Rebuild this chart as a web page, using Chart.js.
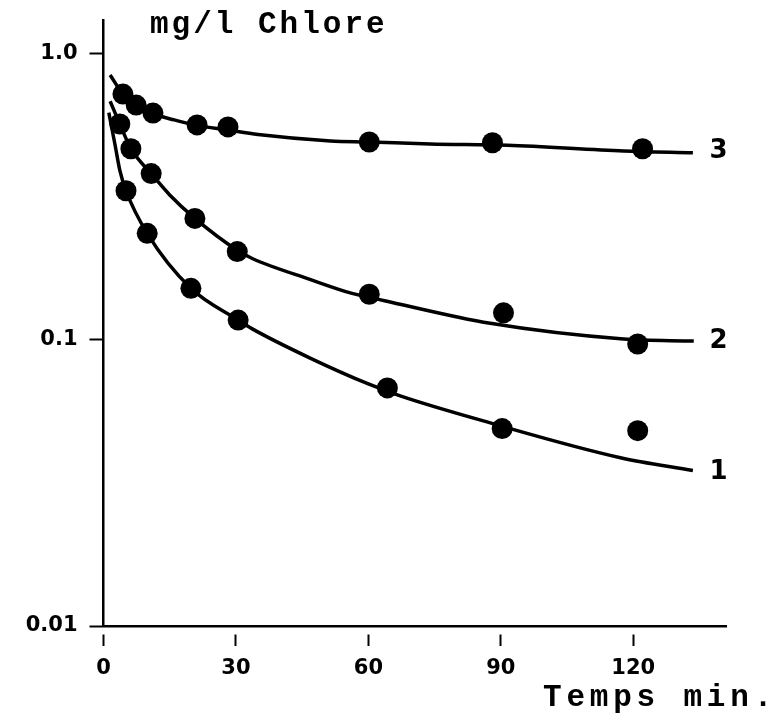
<!DOCTYPE html>
<html>
<head>
<meta charset="utf-8">
<script src="https://cdn.jsdelivr.net/npm/chart.js@4.4.1/dist/chart.umd.min.js"></script>
<style>
  body { margin: 0; background: #fff; }
  #chlore { display: block; }
</style>
</head>
<body>
<canvas id="chlore" width="774" height="723"></canvas>
<script>
'use strict';

// axes
var timeTicks = [0, 30, 60, 90, 120];
var chloreTicks = [0.01, 0.1, 1.0];
var chloreTickLabels = ['0.01', '0.1', '1.0'];

// mesures (points)
var t3 = [4.4, 7.4, 11.2, 21.2, 28.2, 60.2, 88.1, 122.1];
var c3 = [0.72, 0.659, 0.618, 0.562, 0.553, 0.49, 0.487, 0.464];
var t2 = [3.7, 6.2, 10.8, 20.7, 30.3, 60.2, 90.6, 121.0];
var c2 = [0.566, 0.464, 0.38, 0.265, 0.203, 0.144, 0.124, 0.0965];
var t1 = [5.1, 9.9, 19.8, 30.5, 64.3, 90.3, 121.0];
var c1 = [0.331, 0.235, 0.151, 0.117, 0.0678, 0.0489, 0.0481];

// courbes tracees a la main
var curveT3 = [1.5, 4.4, 7.4, 11.2, 16, 21.2, 28, 35, 51.4, 60, 74, 91.5, 117.8, 133.5];
var curveC3 = [0.84, 0.72, 0.66, 0.615, 0.585, 0.56, 0.54, 0.52, 0.494, 0.49, 0.482, 0.477, 0.456, 0.449];
var curveT2 = [1.5, 3.7, 6.2, 10.8, 15, 20.7, 30.3, 33.7, 46.9, 56.3, 63.4, 87.6, 117.8, 133.7];
var curveC2 = [0.68, 0.566, 0.464, 0.38, 0.32, 0.265, 0.205, 0.192, 0.162, 0.145, 0.137, 0.114, 0.1005, 0.0988];
var curveT1 = [1.2, 2.6, 3.7, 5.1, 9.9, 19.8, 30.5, 33.7, 46.8, 60, 67.2, 87.6, 117.1, 133.5];
var curveC1 = [0.62, 0.48, 0.39, 0.331, 0.235, 0.151, 0.117, 0.109, 0.0862, 0.070, 0.0636, 0.0512, 0.0387, 0.0349];

// numeros des courbes
var curveNames = ['3', '2', '1'];
var nameTime = [139.3, 139.3, 139.3];
var nameChlore = [0.453, 0.0988, 0.0343];

function pairs(xs, ys) {
  return xs.map(function(x, i) { return {x: x, y: ys[i]}; });
}

function pointSet(xs, ys) {
  return {
    type: 'scatter',
    data: pairs(xs, ys),
    pointRadius: 10.5,
    pointBackgroundColor: '#000',
    pointBorderWidth: 0,
    showLine: false
  };
}

function curveSet(xs, ys) {
  return {
    type: 'line',
    data: pairs(xs, ys),
    borderColor: '#000',
    borderWidth: 3.5,
    pointRadius: 0,
    cubicInterpolationMode: 'monotone',
    fill: false
  };
}

// fond blanc + textes
var textPlugin = {
  id: 'texts',
  beforeDraw: function(chart) {
    var ctx = chart.ctx;
    ctx.save();
    ctx.fillStyle = '#fff';
    ctx.fillRect(0, 0, chart.width, chart.height);
    ctx.restore();
  },
  afterDraw: function(chart) {
    var ctx = chart.ctx;
    var sx = chart.scales.x, sy = chart.scales.y;
    ctx.save();
    ctx.fillStyle = '#000';
    ctx.font = 'bold 31px "Liberation Mono"';
    ctx.textBaseline = 'alphabetic';
    ctx.letterSpacing = '3px';
    ctx.fillText('mg/l Chlore', 150, 33);
    ctx.letterSpacing = '4.8px';
    ctx.fillText('Temps min.', 543, 706);
    ctx.letterSpacing = '0px';
    ctx.font = 'bold 26px "DejaVu Sans"';
    ctx.textAlign = 'center';
    ctx.textBaseline = 'middle';
    curveNames.forEach(function(n, i) {
      ctx.fillText(n, sx.getPixelForValue(nameTime[i]), sy.getPixelForValue(nameChlore[i]));
    });
    ctx.restore();
  }
};

var tickFont = {family: 'DejaVu Sans', weight: 'bold', size: 21};

var ctx = document.getElementById('chlore');
var myChart = new Chart(ctx, {
  data: {
    datasets: [
      pointSet(t3, c3), pointSet(t2, c2), pointSet(t1, c1),
      curveSet(curveT3, curveC3), curveSet(curveT2, curveC2), curveSet(curveT1, curveC1)
    ]
  },
  plugins: [textPlugin],
  options: {
    responsive: false,
    animation: false,
    layout: {padding: {top: 18, right: 48, left: 0, bottom: 0}},
    plugins: {
      legend: {display: false},
      tooltip: {enabled: false}
    },
    scales: {
      x: {
        type: 'linear',
        min: 0,
        max: 141,
        afterBuildTicks: function(scale) {
          scale.ticks = timeTicks.map(function(v) { return {value: v}; });
        },
        afterFit: function(scale) { scale.height = 97; },
        border: {display: true, color: '#000', width: 2.5},
        grid: {
          drawOnChartArea: false,
          drawTicks: true,
          tickLength: 20,
          tickColor: '#000',
          tickWidth: 2,
          tickBorderDash: [13, 7],
          tickBorderDashOffset: 13
        },
        ticks: {
          color: '#000',
          font: tickFont,
          padding: 10,
          maxRotation: 0
        }
      },
      y: {
        type: 'logarithmic',
        min: 0.01,
        max: 1.3,
        afterBuildTicks: function(scale) {
          scale.ticks = chloreTicks.map(function(v) { return {value: v}; });
        },
        afterFit: function(scale) { scale.width = 103.5; },
        border: {display: true, color: '#000', width: 2.5},
        grid: {
          drawOnChartArea: false,
          drawTicks: true,
          tickLength: 18,
          tickColor: '#000',
          tickWidth: 2,
          tickBorderDash: [14, 4],
          tickBorderDashOffset: 14
        },
        ticks: {
          color: '#000',
          font: tickFont,
          padding: 8,
          callback: function(value, index) { return chloreTickLabels[index]; }
        }
      }
    }
  }
});
</script>
</body>
</html>
